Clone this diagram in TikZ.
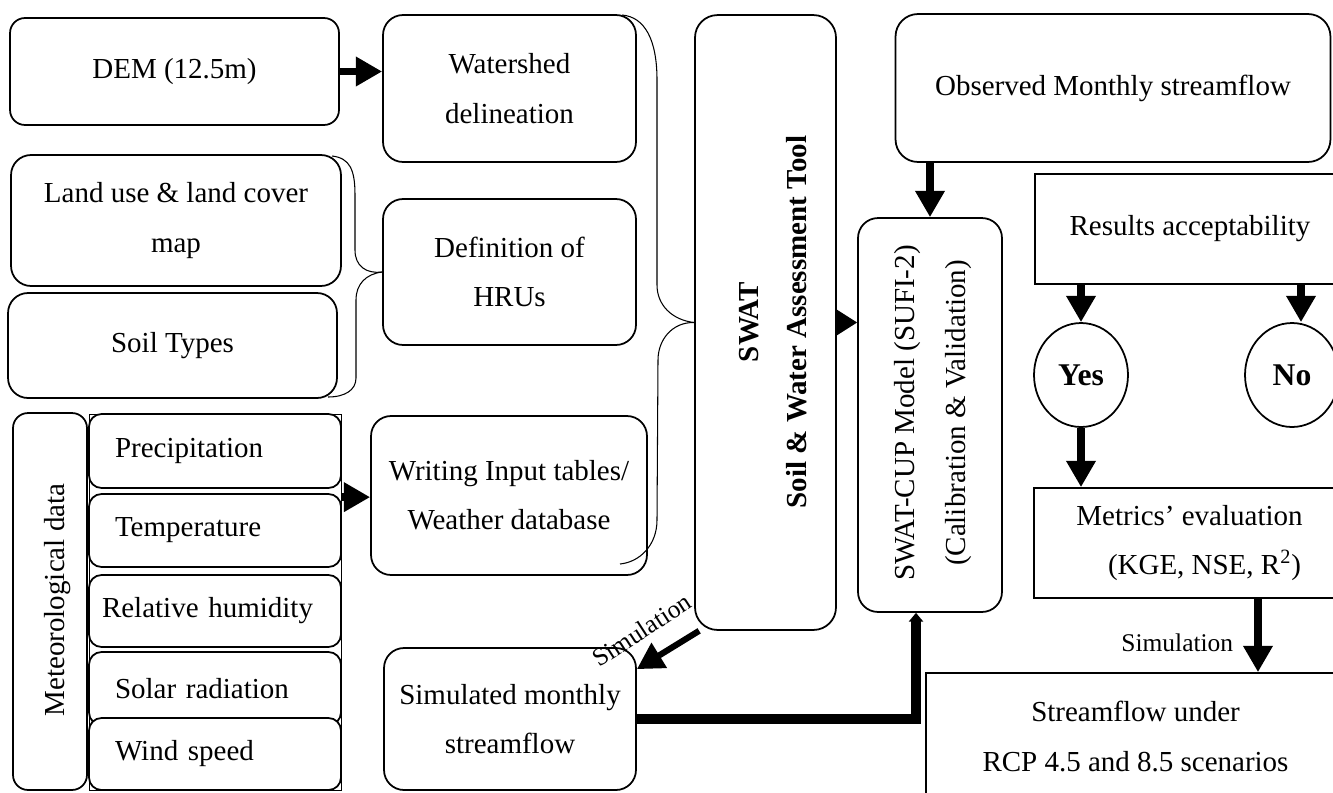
\documentclass[tikz,border=0pt]{standalone}
\usepackage{fontspec}
\setmainfont{Liberation Serif}
\usetikzlibrary{arrows.meta,shapes.geometric,calc}

\tikzset{
	rbox/.style={draw, line width=1pt, rounded corners=0.4cm, inner sep=2pt, align=center, font=\fontsize{16.5}{28}\selectfont},
	sbox/.style={draw, line width=1pt, inner sep=2pt, align=center, font=\fontsize{16.5}{28}\selectfont},
	mbox/.style={draw, line width=1pt, rounded corners=0.25cm, fill=white, text width=4.0cm, inner xsep=0.52cm, align=left, font=\fontsize{16.5}{18}\selectfont},
	vtext/.style={rotate=90, align=center, font=\fontsize{16.5}{28}\selectfont},
	oval/.style={draw, ellipse, line width=1pt, inner sep=0pt, font=\fontsize{18}{20}\selectfont\bfseries},
	small/.style={font=\fontsize{14.5}{16}\selectfont},
	bigarrow/.style={line width=4.5pt, -{Triangle[length=15pt,width=16pt]}},
	brace/.style={line width=0.6pt}
}

\begin{document}
\begin{tikzpicture}[x=0.02cm, y=-0.02cm]
			%%%%% START %%%%%
			\useasboundingbox (0,0) rectangle (1333,792);
			\fill[white] (0,0) rectangle (1333,792);
			
			% inputs
			\node[rbox, rounded corners=0.3cm, minimum width=6.58cm, minimum height=2.14cm] (dem) at (174.5,71.5) {DEM (12.5m)};
			\node[rbox, minimum width=5.06cm, minimum height=2.94cm] (wshed) at (509.5,88.5) {Watershed\\delineation};
			\node[rbox, minimum width=6.6cm, minimum height=2.62cm] (land) at (176,220.5) {Land use \& land cover\\map};
			\node[rbox, minimum width=6.58cm, minimum height=2.1cm] (soil) at (172.5,345.5) {Soil Types};
			\node[rbox, minimum width=5.06cm, minimum height=2.92cm] (hru) at (509.5,272) {Definition of\\HRUs};
			
			% weather stack
			\draw[line width=0.5pt] (89,414) rectangle (341,790);
			\node[rbox, rounded corners=0.3cm, minimum width=1.48cm, minimum height=7.54cm] (met) at (50,601.5) {};
			\node[vtext] (metT) at (58,600) {Meteorological data};
			\node[mbox, minimum height=1.48cm] (prec) at (215,451) {Precipitation};
			\node[mbox, minimum height=1.46cm] (temp) at (215,530.5) {Temperature};
			\node[mbox, minimum height=1.44cm] (humid) at (215,611) {\hspace*{-0.26cm}Relative humidity};
			\node[mbox, minimum height=1.46cm] (solar) at (215,688.5) {Solar radiation};
			\node[mbox, minimum height=1.44cm] (wind) at (215,754) {Wind speed};
			
			\node[rbox, minimum width=5.52cm, minimum height=3.18cm] (write) at (509,495.5) {Writing Input tables/\\Weather database};
			\node[rbox, minimum width=5.04cm, minimum height=2.84cm] (simul) at (510,719) {Simulated monthly\\streamflow};
			
			% model
			\node[rbox, rounded corners=0.45cm, minimum width=2.82cm, minimum height=12.3cm] (swat) at (765.5,322.5) {};
			\node[vtext, font=\fontsize{16.5}{27}\selectfont\bfseries] (swatT) at (773,322) {SWAT\\Soil \& Water Assessment Tool};
			\node[rbox, rounded corners=0.45cm, minimum width=8.7cm, minimum height=2.96cm] (obs) at (1113,88) {Observed Monthly streamflow};
			\node[rbox, minimum width=2.88cm, minimum height=7.88cm] (cup) at (930,415) {};
			\node[vtext, font=\fontsize{16.5}{29}\selectfont] (cupT) at (933,413) {SWAT-CUP Model (SUFI-2)\\(Calibration \& Validation)};
			
			% evaluation
			\node[sbox, minimum width=6.2cm, minimum height=2.2cm] (accept) at (1190,229) {Results acceptability};
			\node[oval, minimum width=1.88cm, minimum height=2.08cm] (yes) at (1081,375) {Yes};
			\node[oval, minimum width=1.88cm, minimum height=2.08cm] (no) at (1292,375) {No};
			\node[sbox, minimum width=6.22cm, minimum height=2.2cm] (metric) at (1189.5,543) {Metrics' evaluation\\\hspace*{0.6cm}(KGE, NSE, R\textsuperscript{2})};
			\node[sbox, minimum width=8.38cm, minimum height=2.54cm] (stream) at (1135.5,736.5) {Streamflow under\\RCP 4.5 and 8.5 scenarios};
			
			% braces
			\draw[brace] (332,156) .. controls (350,158) and (355,170) .. (355,195) -- (355,250) .. controls (355,266) and (366,274) .. (hru.west);
			\draw[brace] (hru.west) .. controls (366,274) and (356,284) .. (356,300) -- (356,378) .. controls (356,390) and (345,397) .. (328,397);
			\draw[brace] (622,15) .. controls (645,17) and (657,40) .. (657,80) -- (657,285) .. controls (657,305) and (672,320) .. (swat.west);
			\draw[brace] (swat.west) .. controls (672,322) and (658,340) .. (658,360) -- (657,520) .. controls (657,545) and (640,562) .. (620,564);
			
			% arrows
			\draw[bigarrow] (dem.east) -- (dem.east -| wshed.west);
			\draw[bigarrow] ([yshift=-0.08cm]temp.north east) -- ([yshift=-0.08cm]temp.north east -| write.west);
			\draw[bigarrow] (cup.north |- obs.south) -- (cup.north);
			\draw[line width=1pt, -{Triangle[length=12pt,width=15pt]}] (swat.east) -- (swat.east -| cup.west);
			\draw[bigarrow] (accept.south -| yes.north) -- (yes.north);
			\draw[bigarrow] ([xshift=0.18cm]accept.south -| no.north) -- ([xshift=0.18cm]no.north);
			\draw[bigarrow] (yes.south) -- (yes.south |- metric.north);
			\draw[bigarrow] ([xshift=1.37cm]metric.south) -- ([xshift=1.37cm]metric.south |- stream.north) node[pos=0.6, left=0.3cm, small] (simB) {Simulation};
			\draw[bigarrow, line width=3.5pt] ([xshift=0.1cm]swat.south west) -- ([yshift=-0.44cm]simul.north east);
			\node[small, rotate=33] (simA) at (642,630) {Simulation};
			\draw[line width=5.5pt, -{Triangle[length=5pt,width=8pt]}] (simul.east) -| ([xshift=-0.28cm]cup.south);
			
			%%%%% END %%%%%
		\end{tikzpicture}
\end{document}
